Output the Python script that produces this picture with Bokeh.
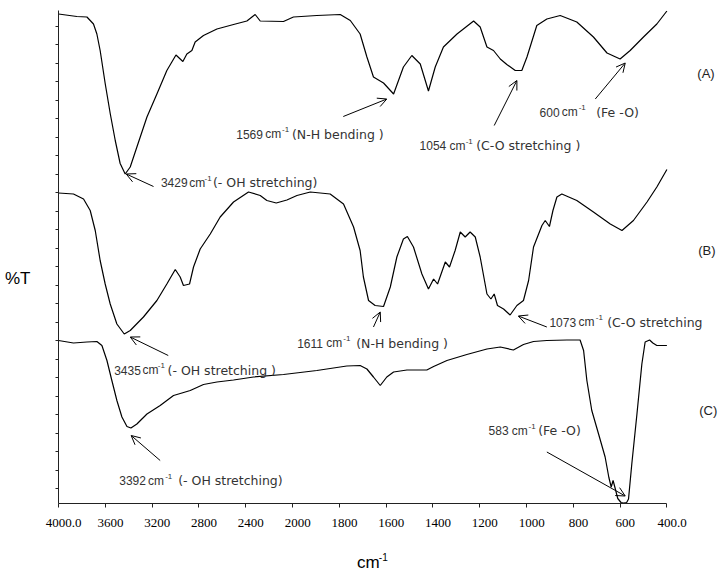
import numpy as np
from bokeh.plotting import figure
from bokeh.models import Range1d, LinearAxis, FixedTicker, Label, Arrow, OpenHead
from bokeh.embed import file_html
from bokeh.resources import INLINE

# ---------------- data (wavenumber cm-1, %T readings, stacked spectra) ----------------
a_wn = [4000, 3843, 3757, 3701, 3672, 3644, 3601, 3558, 3515, 3473, 3430, 3387, 3330, 3244,
        3159, 3074, 2996, 2937, 2903, 2860, 2832, 2761, 2646, 2504, 2390, 2319, 2276, 2077,
        1996, 1896, 1796, 1753, 1711, 1682, 1654, 1611, 1568, 1526, 1490, 1454, 1419, 1390,
        1355, 1297, 1226, 1198, 1169, 1141, 1112, 1084, 1048, 1020, 998, 956, 913, 856, 785,
        714, 656, 600, 557, 500, 443, 400]
a_t = [97.9, 97.4, 97.3, 95.9, 93.9, 90.6, 84.0, 78.0, 72.6, 68.0, 65.9, 67.3, 71.3, 77.3,
       81.9, 86.6, 89.7, 88.4, 89.9, 90.6, 92.3, 93.6, 94.9, 95.8, 96.5, 97.8, 96.5, 96.4,
       97.3, 97.6, 97.8, 96.6, 93.9, 89.3, 85.3, 84.1, 81.9, 87.3, 89.6, 87.9, 82.5, 87.3,
       91.3, 93.9, 96.5, 95.3, 91.3, 90.6, 88.9, 87.8, 86.6, 86.6, 89.3, 95.6, 96.9, 97.6, 96.3,
       93.3, 90.1, 88.9, 90.6, 93.3, 95.9, 98.5]

b_wn = [4000, 3872, 3786, 3729, 3686, 3644, 3601, 3558, 3501, 3438, 3387, 3274, 3159, 3074,
        3002, 2960, 2932, 2880, 2846, 2789, 2703, 2618, 2504, 2376, 2276, 2219, 2139, 2048,
        1981, 1924, 1839, 1782, 1739, 1711, 1697, 1675, 1647, 1611, 1582, 1554, 1526, 1509,
        1483, 1447, 1419, 1397, 1380, 1347, 1329, 1305, 1283, 1262, 1241, 1219, 1198, 1169,
        1152, 1138, 1124, 1098, 1070, 1041, 1013, 991, 970, 934, 920, 902, 887, 870, 849, 785,
        714, 642, 592, 543, 485, 443, 400]
b_t = [62.1, 61.9, 60.9, 58.6, 54.6, 48.6, 43.9, 39.9, 35.9, 33.9, 34.6, 37.3, 40.6, 43.9,
       46.8, 45.3, 43.6, 43.9, 47.3, 50.9, 53.9, 57.3, 60.3, 62.3, 61.6, 60.6, 60.1, 60.7,
       61.6, 62.3, 61.9, 59.9, 55.3, 50.6, 45.3, 40.6, 39.6, 39.4, 43.3, 49.3, 52.9, 53.4,
       51.3, 45.9, 42.9, 44.9, 43.9, 48.3, 47.3, 50.6, 54.3, 53.3, 54.3, 53.3, 49.3, 41.9,
       40.9, 41.9, 39.6, 38.9, 37.7, 39.6, 40.6, 44.6, 51.3, 55.6, 56.6, 55.4, 58.6, 61.3, 61.9,
       60.6, 58.3, 55.9, 54.6, 56.6, 60.3, 63.3, 66.8]

c_wn = [4000, 3872, 3757, 3672, 3629, 3586, 3544, 3501, 3458, 3415, 3381, 3330, 3244, 3131,
        3017, 2945, 2874, 2761, 2646, 2504, 2333, 2077, 1896, 1768, 1711, 1682, 1654, 1625,
        1597, 1568, 1511, 1426, 1397, 1340, 1255, 1169, 1112, 1056, 1013, 970, 913, 827, 771,
        756, 742, 721, 692, 664, 648, 638, 630, 622, 610, 596, 585, 572, 564, 550, 528, 507,
        493, 474, 460, 443, 400]
c_t = [32.6, 32.1, 32.3, 32.4, 31.6, 28.6, 24.6, 20.6, 17.3, 15.4, 15.1, 15.9, 17.9, 19.6,
       21.6, 22.1, 22.6, 23.8, 24.3, 24.7, 25.3, 25.8, 26.6, 27.5, 27.6, 26.9, 25.3, 23.6,
       25.3, 26.3, 26.7, 26.7, 27.4, 28.6, 29.8, 30.9, 31.3, 30.7, 31.8, 32.4, 32.6, 32.7, 32.7,
       30.6, 24.6, 18.6, 13.9, 9.3, 5.2, 3.3, 4.6, 3.2, 1.0, 0.2, 0.1, 0.2, 0.9, 7.9, 17.9, 27.9,
       32.3, 32.7, 32.1, 31.6, 31.6]

tick_wn = [4000, 3600, 3200, 2800, 2400, 2000, 1800, 1600, 1400, 1200, 1000, 800, 600, 400]
tick_labels = ["4000.0", "3600", "3200", "2800", "2400", "2000", "1800", "1600", "1400",
               "1200", "1000", "800", "600", "400.0"]

series_names = ["(A)", "(B)", "(C)"]

# band annotations: number, tail text
peak_nums = ["3429", "1569", "1054", "600", "3435", "1611", "1073", "3392", "583"]
peak_tails = ["(- OH stretching)", "(N-H bending )", "(C-O stretching )", "(Fe -O)",
              "(- OH stretching )", "(N-H bending )", "(C-O stretching", "(- OH stretching)",
              "(Fe -O)"]


def to_axis(wn):
    """FTIR axis with a scale change at 2000 cm-1 (400 per unit above, 200 per unit below)."""
    wn = np.asarray(wn, dtype=float)
    return np.where(wn >= 2000, (4000.0 - wn) / 400.0, 5.0 + (2000.0 - wn) / 200.0)


# ---------------- layout / styling ----------------
# text piece anchors: (wn of number, wn of "cm", wn of superscript, wn of tail, %T centre)
text_pos = [
    (3125, 2883, 2752, 2680, 64.2),
    (2481, 2233, 2090, 2005, 73.9),
    (1457, 1329, 1260, 1215, 71.6),
    (944, 849, 777, 702, 78.3),
    (3524, 3282, 3151, 3068, 26.7),
    (1980, 1856, 1783, 1728, 32.1),
    (902, 778, 704, 655, 36.3),
    (3481, 3236, 3088, 2977, 4.6),
    (1162, 1063, 991, 950, 14.6),
]
# arrows: (wn start, %T start, wn tip, %T tip)
arrow_pos = [
    (3188, 63.4, 3421, 65.9),
    (1783, 77.4, 1597, 80.9),
    (1138, 75.6, 1041, 84.6),
    (706, 80.9, 578, 88.1),
    (3062, 29.6, 3387, 33.3),
    (1654, 35.3, 1625, 38.3),
    (913, 35.3, 1035, 37.5),
    (3131, 8.6, 3379, 13.6),
    (913, 10.3, 578, 1.5),
]
name_pos = [(270, 86.1), (266, 50.6), (262, 18.6)]

TEXT_COLOR = "#333333"
SANS = "Liberation Sans"
X_END = 664 / 46.8

p = figure(width=722, height=576, output_backend="svg", toolbar_location=None,
           x_range=Range1d(0, X_END), y_range=Range1d(0, 98.6),
           x_axis_location=None, y_axis_location=None,
           min_border_left=58, min_border_right=0, min_border_top=10, min_border_bottom=73)
p.outline_line_color = None
p.grid.visible = False
p.background_fill_color = "white"
p.border_fill_color = "white"

# y axis (ticks only, labels not drawn)
yticks = [95.4 - 3.698 * k for k in range(26)]
yax = LinearAxis(ticker=FixedTicker(ticks=yticks), major_label_text_font_size="1px",
                 major_label_text_color=None, major_label_standoff=0,
                 major_tick_in=0, major_tick_out=3,
                 minor_tick_line_color=None, axis_line_color="#222222",
                 major_tick_line_color="#222222")
p.add_layout(yax, "left")

# "%T" drawn as a horizontal label on a bare outer axis
t_axis = LinearAxis(ticker=FixedTicker(ticks=[45.0]), major_label_overrides={45.0: "%T"},
                    axis_line_color=None, major_tick_line_color=None, minor_tick_line_color=None,
                    major_label_text_font=SANS, major_label_text_font_size="17px",
                    major_label_text_color="black", major_label_standoff=19)
p.add_layout(t_axis, "left")

tick_pos = [float(v) for v in to_axis(tick_wn)]
xax = LinearAxis(ticker=FixedTicker(ticks=tick_pos), major_label_text_font_size="1px",
                 major_label_text_color=None, major_label_standoff=0,
                 major_tick_in=0, major_tick_out=4,
                 minor_tick_line_color=None, axis_line_color="#222222",
                 major_tick_line_color="#222222", bounds=(0, 13))
p.add_layout(xax, "below")

# tick labels drawn on a second axis, slightly shifted to the right as in the original
p.extra_x_ranges = {"lab": Range1d(-0.11, X_END - 0.11)}
xlab = LinearAxis(x_range_name="lab", ticker=FixedTicker(ticks=tick_pos),
                  major_label_overrides={tp: lab for tp, lab in zip(tick_pos, tick_labels)},
                  axis_line_color=None, major_tick_line_color=None, minor_tick_line_color=None,
                  major_label_text_font="Liberation Serif", major_label_text_font_size="13px",
                  major_label_text_color="black", major_label_standoff=5)
p.add_layout(xlab, "below")

# x title "cm-1": superscript and "cm" as labels of two bare axes
sup_u = float(to_axis(1612))
cm_u = float(to_axis(1676))
sup_axis = LinearAxis(ticker=FixedTicker(ticks=[sup_u]), major_label_overrides={sup_u: "-1"},
                      axis_line_color=None, major_tick_line_color=None,
                      minor_tick_line_color=None,
                      major_label_text_font=SANS, major_label_text_font_size="10px",
                      major_label_text_color="black", major_label_standoff=17)
p.add_layout(sup_axis, "below")
cm_axis = LinearAxis(ticker=FixedTicker(ticks=[cm_u]), major_label_overrides={cm_u: "cm"},
                     axis_line_color=None, major_tick_line_color=None,
                     minor_tick_line_color=None,
                     major_label_text_font=SANS, major_label_text_font_size="17px",
                     major_label_text_line_height=1.0,
                     major_label_text_color="black", major_label_standoff=-17)
p.add_layout(cm_axis, "below")

# spectra
for wn, t in [(a_wn, a_t), (b_wn, b_t), (c_wn, c_t)]:
    p.line(to_axis(wn), t, line_color="black", line_width=1.2)


def add_label(wn, t, text, size, font=SANS, color=TEXT_COLOR):
    p.add_layout(Label(x=float(to_axis(wn)), y=t, text=text, text_font=font,
                       text_font_size=size, text_color=color, text_baseline="middle",
                       text_align="left"))


for num, tail, (wn_n, wn_c, wn_s, wn_t, tc), (xs, ys, xe, ye) in zip(
        peak_nums, peak_tails, text_pos, arrow_pos):
    add_label(wn_n, tc, num, "12px")
    add_label(wn_c, tc, "cm", "12px")
    add_label(wn_s, tc + 0.9, "-1", "8px")
    add_label(wn_t, tc, tail, "12.5px", font="DejaVu Sans")
    p.add_layout(Arrow(end=OpenHead(size=9, line_width=1, line_color="black"),
                       x_start=float(to_axis(xs)), y_start=ys,
                       x_end=float(to_axis(xe)), y_end=ye,
                       line_color="black", line_width=1))

for name, (wn, t) in zip(series_names, name_pos):
    add_label(wn, t, name, "13px", color="#222222")

open("out.html", "w").write(file_html(p, INLINE))
